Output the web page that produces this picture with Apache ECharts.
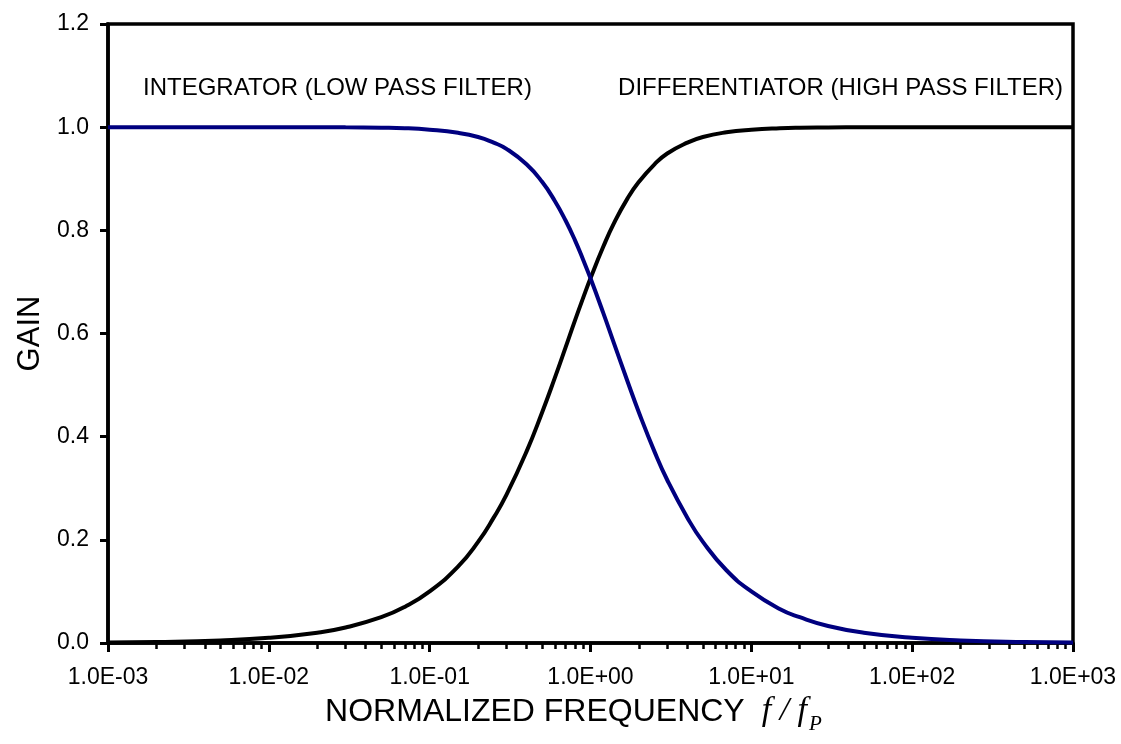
<!DOCTYPE html>
<html>
<head>
<meta charset="utf-8">
<script src="https://cdn.jsdelivr.net/npm/echarts@6/dist/echarts.min.js"></script>
<style>
  html, body { margin: 0; padding: 0; background: #fff; }
  #chart { width: 1121px; height: 744px; }
</style>
</head>
<body>
<div id="chart"></div>
<script>
// Normalized frequency f/fP (log scale)
const freq = [0.001, 0.002, 0.005, 0.01, 0.02, 0.03, 0.05, 0.07, 0.1, 0.15, 0.2, 0.25, 0.3, 0.4, 0.5,
  0.6, 0.7, 0.8, 0.9, 1, 1.2, 1.4, 1.7, 2, 2.5, 3, 4, 5, 7, 10, 15, 20, 30, 50, 100, 200, 500, 1000];

// Gain of the integrator (low pass filter)
const lowPassGain = [1.000, 1.000, 1.000, 1.000, 1.000, 0.9996, 0.999, 0.998, 0.995, 0.989, 0.981, 0.970, 0.958, 0.928, 0.894,
  0.857, 0.819, 0.781, 0.743, 0.707, 0.640, 0.581, 0.507, 0.447, 0.371, 0.316, 0.243, 0.196, 0.141, 0.100, 0.066, 0.050, 0.033, 0.020, 0.010, 0.005, 0.002, 0.001];

// Gain of the differentiator (high pass filter)
const highPassGain = [0.001, 0.002, 0.005, 0.010, 0.020, 0.030, 0.050, 0.070, 0.100, 0.148, 0.196, 0.243, 0.287, 0.371, 0.447,
  0.514, 0.573, 0.625, 0.669, 0.707, 0.768, 0.814, 0.862, 0.894, 0.928, 0.949, 0.970, 0.981, 0.990, 0.995, 0.998, 0.999, 0.9994, 0.9998, 1.000, 1.000, 1.000, 1.000];

// Axis ticks
const xMajorTicks = [0.001, 0.01, 0.1, 1, 10, 100, 1000];
const yTicks = [0, 0.2, 0.4, 0.6, 0.8, 1.0, 1.2];

const labels = {
  low: 'INTEGRATOR (LOW PASS FILTER)',
  high: 'DIFFERENTIATOR (HIGH PASS FILTER)',
  yTitle: 'GAIN',
  xTitle: 'NORMALIZED FREQUENCY'
};

// minor log ticks at 2..9 within each decade
const xMinorTicks = [];
for (let d = 0; d < xMajorTicks.length - 1; d++) {
  for (let k = 2; k <= 9; k++) xMinorTicks.push(+(xMajorTicks[d] * k).toPrecision(3));
}

function sciLabel(v) {
  const e = Math.round(Math.log10(v));
  const m = v / Math.pow(10, e);
  const sign = e < 0 ? '-' : '+';
  const abs = Math.abs(e);
  return m.toFixed(1) + 'E' + sign + (abs < 10 ? '0' + abs : '' + abs);
}

const FONT = 'Liberation Sans, Arial, sans-serif';
const SERIF = 'Liberation Serif, Times New Roman, serif';

const chart = echarts.init(document.getElementById('chart'), null, { renderer: 'canvas' });

chart.setOption({
  animation: false,
  backgroundColor: '#fff',
  grid: {
    left: 108, right: 48, top: 24, bottom: 101,
    show: true, borderColor: '#000', borderWidth: 3.5, backgroundColor: 'transparent'
  },
  xAxis: [{
    type: 'log',
    logBase: 10,
    min: 0.001,
    max: 1000,
    position: 'bottom',
    axisLine: { show: true, onZero: false, lineStyle: { color: '#000', width: 3.5 } },
    axisTick: { show: true, inside: false, length: 9, customValues: xMajorTicks, lineStyle: { color: '#000', width: 3 } },
    minorTick: { show: false },
    splitLine: { show: false },
    axisLabel: {
      customValues: xMajorTicks,
      formatter: sciLabel,
      color: '#000', fontFamily: FONT, fontSize: 23, margin: 23
    },
    name: '{t|' + labels.xTitle + '}{f|  f / f}{s|P}',
    nameLocation: 'middle',
    nameGap: 41,
    nameTextStyle: {
      padding: [0, 34, 0, 0],
      rich: {
        t: { fontFamily: FONT, fontSize: 32, color: '#000', verticalAlign: 'bottom', lineHeight: 36 },
        f: { fontFamily: SERIF, fontStyle: 'italic', fontSize: 34, color: '#000', verticalAlign: 'bottom', lineHeight: 36 },
        s: { fontFamily: SERIF, fontStyle: 'italic', fontSize: 21, color: '#000', verticalAlign: 'bottom', lineHeight: 36, padding: [0, 0, -7, 2] }
      }
    }
  }, {
    // minor log ticks
    type: 'log',
    logBase: 10,
    min: 0.001,
    max: 1000,
    position: 'bottom',
    axisLine: { show: false },
    axisTick: { show: true, inside: false, length: 6, customValues: xMinorTicks, lineStyle: { color: '#000', width: 2.5 } },
    axisLabel: { show: false },
    splitLine: { show: false }
  }],
  yAxis: {
    type: 'value',
    min: 0,
    max: 1.2,
    interval: 0.2,
    axisLine: { show: true, onZero: false, lineStyle: { color: '#000', width: 3.5 } },
    axisTick: { show: true, inside: false, length: 8, lineStyle: { color: '#000', width: 3 } },
    splitLine: { show: false },
    axisLabel: {
      formatter: v => v.toFixed(1),
      color: '#000', fontFamily: FONT, fontSize: 23, margin: 19
    },
    name: labels.yTitle,
    nameLocation: 'middle',
    nameGap: 60,
    nameRotate: 90,
    nameTextStyle: { fontFamily: FONT, fontSize: 31, color: '#000' }
  },
  graphic: [
    {
      type: 'text', left: 143, top: 76,
      style: { text: labels.low, font: '24px ' + FONT, fill: '#000' }
    },
    {
      type: 'text', right: 58, top: 76,
      style: { text: labels.high, font: '24px ' + FONT, fill: '#000' }
    }
  ],
  series: [
    {
      name: 'DIFFERENTIATOR',
      type: 'line',
      xAxisIndex: 0,
      data: freq.map((f, i) => [f, highPassGain[i]]),
      smooth: true,
      showSymbol: false,
      lineStyle: { color: '#000000', width: 4 },
      z: 2
    },
    {
      name: 'INTEGRATOR',
      type: 'line',
      xAxisIndex: 0,
      data: freq.map((f, i) => [f, lowPassGain[i]]),
      smooth: true,
      showSymbol: false,
      lineStyle: { color: '#00007f', width: 4 },
      z: 3
    }
  ]
});
</script>
</body>
</html>
